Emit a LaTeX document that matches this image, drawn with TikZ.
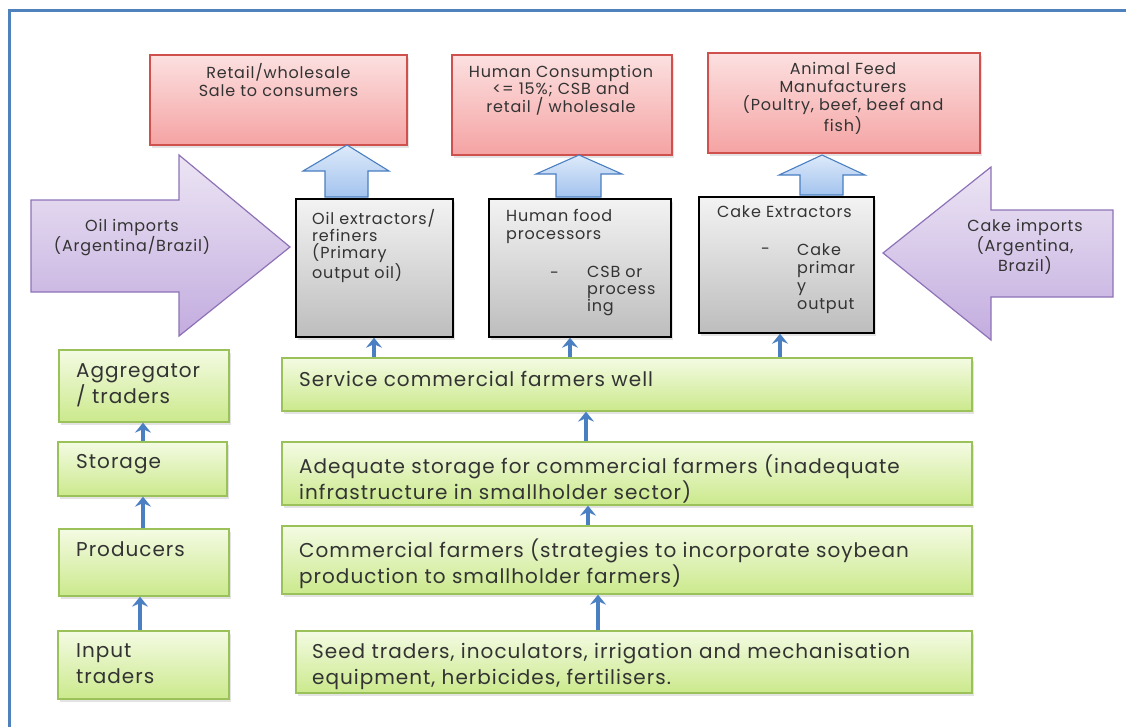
\documentclass[tikz,border=0pt]{standalone}
\usepackage{fontspec}
\setmainfont{Poppins}[LetterSpace=5]
\usetikzlibrary{shadows,arrows.meta}
\definecolor{frameblue}{HTML}{4F81BD}
\definecolor{txt}{HTML}{333333}
\definecolor{redtop}{HTML}{FCE0E0}
\definecolor{redbot}{HTML}{F5A3A3}
\definecolor{redline}{HTML}{D0504D}
\definecolor{graytop}{HTML}{F3F3F3}
\definecolor{graybot}{HTML}{BDBDBD}
\definecolor{greentop}{HTML}{F4FBE3}
\definecolor{greenbot}{HTML}{CBE98C}
\definecolor{greenline}{HTML}{9BC15A}
\definecolor{purptop}{HTML}{ECE5F4}
\definecolor{purpbot}{HTML}{C3ACDF}
\definecolor{purpline}{HTML}{8E72B8}
\definecolor{bluetop}{HTML}{DDEAFA}
\definecolor{bluebot}{HTML}{A3C3EE}
\definecolor{arrowblue}{HTML}{4A7FC1}
\tikzset{
  shad/.style={drop shadow={opacity=0.22,shadow xshift=2pt,shadow yshift=-3pt}},
  redbox/.style={rectangle,draw=redline,line width=1.3pt,top color=redtop,bottom color=redbot,shad,inner sep=0pt},
  graybox/.style={rectangle,draw=black,line width=1.4pt,top color=graytop,bottom color=graybot,shad,inner sep=0pt},
  greenbox/.style={rectangle,draw=greenline,line width=1.3pt,top color=greentop,bottom color=greenbot,shad,inner sep=0pt},
  purparrow/.style={draw=purpline,line width=1.2pt,top color=purptop,bottom color=purpbot,line join=miter},
  bluearrow/.style={draw=arrowblue,line width=1.1pt,top color=bluetop,bottom color=bluebot,line join=miter},
  smallarr/.style={draw=arrowblue,line width=3.2pt,-{Stealth[length=10pt,width=16pt,inset=3.5pt]}},
  bigtxt/.style={inner sep=0pt,anchor=north west,align=left,text=txt,font=\fontsize{20}{26}\selectfont},
  smalltxt/.style={inner sep=0pt,text=txt,font=\fontsize{16}{18}\selectfont},
}
\begin{document}
\begin{tikzpicture}[x=1pt,y=-1pt]
\useasboundingbox (0,0) rectangle (1126,726);
\clip (0,0) rectangle (1126,726);
\fill[white] (0,0) rectangle (1126,726);
\draw[frameblue,line width=3pt] (9,10) rectangle (1150,760);

% purple import arrows
\path[purparrow] (31,200) -- (179,200) -- (179,155) -- (290,247) -- (179,336) -- (179,292) -- (31,292) -- cycle;
\path[purparrow] (1113,210) -- (991,210) -- (991,167) -- (883,253) -- (991,340) -- (991,297) -- (1113,297) -- cycle;
\node[smalltxt,anchor=north,align=center,font=\fontsize{16}{20}\selectfont] (oiltxt) at (132,219) {Oil imports\\(Argentina/Brazil)};
\node[smalltxt,anchor=north,align=center,font=\fontsize{16}{20}\selectfont] (caketxt) at (1025,219) {Cake imports\\(Argentina,\\Brazil)};

% red boxes
\node[redbox,minimum width=257,minimum height=90] (r1) at (278.5,100) {};
\node[redbox,minimum width=220,minimum height=100] (r2) at (562,105) {};
\node[redbox,minimum width=272,minimum height=100] (r3) at (844,103) {};
\node[smalltxt,anchor=north,align=center] (r1t) at (278.5,63) {Retail/wholesale\\Sale to consumers};
\node[smalltxt,anchor=north,align=center,font=\fontsize{16}{17.5}\selectfont] (r2t) at (561,65) {Human Consumption\\<= 15\%; CSB and\\retail / wholesale};
\node[smalltxt,anchor=north,align=center,font=\fontsize{16}{18.3}\selectfont] (r3t) at (843,62) {Animal Feed\\Manufacturers\\(Poultry, beef, beef and\\fish)};

% gray boxes
\node[graybox,minimum width=157,minimum height=138] (g1) at (374.5,268) {};
\node[graybox,minimum width=182,minimum height=138] (g2) at (580,268) {};
\node[graybox,minimum width=175,minimum height=136] (g3) at (786.5,265) {};
\node[smalltxt,anchor=north west,align=left,font=\fontsize{16}{17}\selectfont] (g1t) at (312,209) {Oil extractors/\\refiners\\(Primary\\output oil)};
\node[smalltxt,anchor=north west,align=left] (g2t) at (506,209) {Human food\\processors};
\node[smalltxt,anchor=west] (g2d) at (550,275) {-};
\node[smalltxt,anchor=north west,align=left,font=\fontsize{16}{17}\selectfont] (g2b) at (587,266) {CSB or\\process\\ing};
\node[smalltxt,anchor=north west] (g3t) at (717,205) {Cake Extractors};
\node[smalltxt,anchor=west] (g3d) at (761,251) {-};
\node[smalltxt,anchor=north west,align=left] (g3b) at (797,243) {Cake\\primar\\y\\output};

% blue block arrows
\path[bluearrow] (325,197) -- (325,171) -- (303,171) -- (347,145) -- (389,171) -- (368,171) -- (368,197) -- cycle;
\path[bluearrow] (556,197) -- (556,174) -- (536,174) -- (579,155) -- (622,174) -- (601,174) -- (601,197) -- cycle;
\path[bluearrow] (800,195) -- (800,175) -- (779,175) -- (822,155) -- (865,175) -- (843,175) -- (843,195) -- cycle;

% left green column
\node[greenbox,minimum width=170,minimum height=72] (agg) at (144,386) {};
\node[greenbox,minimum width=169,minimum height=54] (sto) at (142.5,469) {};
\node[greenbox,minimum width=170,minimum height=67] (pro) at (144,562.5) {};
\node[greenbox,minimum width=171,minimum height=68] (inp) at (143.5,665) {};
\node[bigtxt] (aggt) at (76,363) {Aggregator\\/ traders};
\node[bigtxt] (stot) at (76,454) {Storage};
\node[bigtxt] (prot) at (76,541) {Producers};
\node[bigtxt] (inpt) at (76,643) {Input\\traders};

% right green column
\node[greenbox,minimum width=690,minimum height=53] (ser) at (627,384.5) {};
\node[greenbox,minimum width=690,minimum height=63] (ade) at (627,473.5) {};
\node[greenbox,minimum width=690,minimum height=68] (com) at (627,560) {};
\node[greenbox,minimum width=676,minimum height=62] (see) at (634,662) {};
\node[bigtxt] (sert) at (299,371) {Service commercial farmers well};
\node[bigtxt] (adet) at (299,455) {Adequate storage for commercial farmers (inadequate\\infrastructure in smallholder sector)};
\node[bigtxt] (comt) at (299,539) {Commercial farmers (strategies to incorporate soybean\\production to smallholder farmers)};
\node[bigtxt] (seet) at (312,643) {Seed traders, inoculators, irrigation and mechanisation\\equipment, herbicides, fertilisers.};

% small connectors
\draw[smallarr] (sto.north -| 143,0) -- (agg.south -| 143,0);
\draw[smallarr] (pro.north -| 143,0) -- (sto.south -| 143,0);
\draw[smallarr] (inp.north -| 140,0) -- (pro.south -| 140,0);
\draw[smallarr] (ser.north -| 374,0) -- (g1.south -| 374,0);
\draw[smallarr] (ser.north -| 570,0) -- (g2.south -| 570,0);
\draw[smallarr] (ser.north -| 780,0) -- (g3.south -| 780,0);
\draw[smallarr] (ade.north -| 586,0) -- (ser.south -| 586,0);
\draw[smallarr] (com.north -| 588,0) -- (ade.south -| 588,0);
\draw[smallarr] (see.north -| 598,0) -- (com.south -| 598,0);
\end{tikzpicture}
\end{document}
